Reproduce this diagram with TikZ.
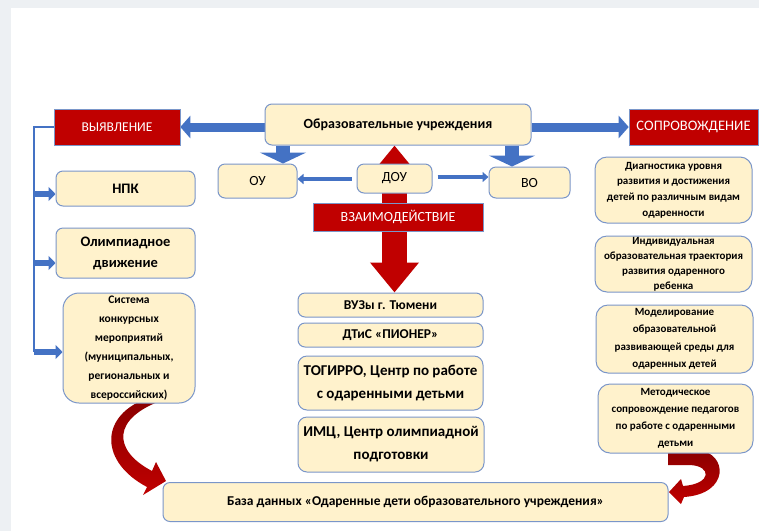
\documentclass[tikz,border=0pt]{standalone}
\usepackage{fontspec}
\setmainfont{Carlito}
\usetikzlibrary{arrows.meta}
\definecolor{cream}{HTML}{FFF2CC}
\definecolor{bord}{HTML}{7A96C9}
\definecolor{dred}{HTML}{C00000}
\definecolor{darkr}{HTML}{8A0000}
\definecolor{ablue}{HTML}{4472C4}
\definecolor{bggrey}{HTML}{EDF0F3}
\pgfdeclarelayer{back}
\pgfdeclarelayer{mid}
\pgfsetlayers{back,mid,main}
\begin{document}
\begin{tikzpicture}[x=1pt,y=-1pt,
  sz/.style 2 args={minimum width=#1pt, minimum height=#2pt},
  bf/.style 2 args={font=\fontsize{#1pt}{#2pt}\selectfont\bfseries},
  rg/.style 2 args={font=\fontsize{#1pt}{#2pt}\selectfont},
  box/.style={draw=bord, line width=1pt, fill=cream, rounded corners=7pt, inner sep=0pt, align=center},
  redbox/.style={draw=bord, line width=0.6pt, fill=dred, inner sep=0pt, text=white, align=center},
  bigblue/.style={draw=ablue, line width=9pt, -{Triangle[width=22pt,length=10pt]}},
  midblue/.style={draw=ablue, line width=5.5pt, -{Triangle[width=14pt,length=7pt]}},
  smallblue/.style={draw=ablue, line width=3.5pt, -{Triangle[width=10pt,length=6pt]}},
  thinblue/.style={draw=ablue, line width=1.6pt},
  blockblue/.style={draw=ablue, line width=14pt, -{Triangle[width=46pt,length=11pt]}},
  redarrow/.style={draw=dred, line width=25pt, {Triangle[width=47pt,length=30pt]}-{Triangle[width=47pt,length=30pt]}}
]
\useasboundingbox (0,0) rectangle (759,531);
\begin{pgfonlayer}{back}
\fill[bggrey] (0,0) rectangle (759,531);
\fill[white] (11,8) rectangle (759,531);
\end{pgfonlayer}

% top row
\node[redbox, sz={126}{36}, rg={13.5}{16}] (vyav) at (117,127) {ВЫЯВЛЕНИЕ};
\node[box, sz={266}{41}, bf={14}{17}] (obr) at (398,124.5) {Образовательные учреждения};
\node[redbox, sz={129}{36}, rg={14.5}{17}] (sopr) at (693.5,127) {СОПРОВОЖДЕНИЕ};

% second row
\node[box, sz={79}{34}, rg={14}{17}] (ou) at (257.5,181) {ОУ};
\node[box, sz={75}{29}, rg={14}{17}] (dou) at (394.5,178.5) {ДОУ};
\node[box, sz={81}{31}, rg={14}{17}] (vo) at (529.5,182.5) {ВО};
\node[redbox, sz={170}{28}, rg={14}{17}] (vzaim) at (398,217) {ВЗАИМОДЕЙСТВИЕ};

% left column
\node[box, sz={139}{35}, bf={14.5}{17}] (npk) at (125.5,188.5) {НПК};
\node[box, sz={139}{50}, bf={14.5}{21}] (olymp) at (125.5,253) {Олимпиадное\\движение};
\node[box, rounded corners=16pt, sz={132}{110}, bf={11.5}{19}] (sist) at (129,348)
  {Система\\конкурсных\\мероприятий\\(муниципальных,\\региональных и\\всероссийских)};

% middle column
\node[box, sz={185}{24}, bf={13.5}{16}] (vuz) at (390.5,305) {ВУЗы г. Тюмени};
\node[box, sz={185}{24}, bf={13.5}{16}] (dtis) at (390.5,335) {ДТиС «ПИОНЕР»};
\node[box, rounded corners=9pt, sz={185}{54}, bf={15}{23}] (tog) at (390.5,383) {ТОГИРРО, Центр по работе\\с одаренными детьми};
\node[box, rounded corners=9pt, sz={186}{55}, bf={15}{23}] (imc) at (391,444.5) {ИМЦ, Центр олимпиадной\\подготовки};

% right column
\node[box, rounded corners=12pt, sz={157}{66}, bf={11}{15.7}] (diag) at (673.5,190) {Диагностика уровня\\развития и достижения\\детей по различным видам\\одаренности};
\node[box, rounded corners=12pt, sz={157}{56}, bf={11}{15}] (indiv) at (673.5,264) {Индивидуальная\\образовательная траектория\\развития одаренного\\ребенка};
\node[box, rounded corners=12pt, sz={157}{68}, bf={11}{17.4}] (model) at (674.5,339) {Моделирование\\образовательной\\развивающей среды для\\одаренных детей};
\node[box, rounded corners=12pt, sz={155}{69}, bf={11}{17}] (metod) at (675.5,418.5) {Методическое\\сопровождение педагогов\\по работе с одаренными\\детьми};

% bottom
\node[box, sz={505}{39}, bf={13.5}{16}] (baza) at (415.5,502) {База данных «Одаренные дети образовательного учреждения»};

% helper coordinates
\coordinate (ltop) at (34,127);
\coordinate (lbot) at (34,352);
\coordinate (a1) at (34,194);
\coordinate (a2) at (34,263);
\coordinate (dl) at (283,0);
\coordinate (dr) at (512,0);

\begin{pgfonlayer}{mid}
% big horizontal arrows
\draw[bigblue] (obr.west |- vyav.east) -- (vyav.east);
\draw[bigblue] (obr.east |- sopr.west) -- (sopr.west);
% block arrows down
\draw[blockblue] (obr.south -| dl) -- (ou.north -| dl);
\draw[blockblue] (obr.south -| dr) -- (vo.north -| dr);
% small arrows from DOU
\draw[smallblue, shorten <=5pt] (dou.west |- 0,179) -- (ou.east |- 0,179);
\draw[smallblue, shorten <=5pt] (dou.east |- 0,177) -- (vo.west |- 0,177);
% red double arrow
\draw[redarrow] (dou |- obr.south) -- (dou |- vuz.north);
% left bracket line
\draw[thinblue] (vyav.west) -- (ltop) -- (lbot);
\draw[midblue] (a1) -- (npk.west |- a1);
\draw[midblue] (a2) -- (olymp.west |- a2);
\draw[midblue] (lbot) -- (sist.west |- lbot);
% curved red arrows
\shade[top color=darkr, bottom color=dred]
  (143,400) .. controls (100,418) and (100,462) .. (147,487)
  -- (143,495) -- (166,481) -- (156,462) -- (152,471)
  .. controls (112,450) and (112,418) .. (163,400) -- cycle;
\shade[top color=darkr, bottom color=dred]
  (668,450) -- (698,450) .. controls (728,453) and (730,494) .. (684,497)
  -- (681,504) -- (669,492) -- (681,479) -- (683,486)
  .. controls (712,484) and (712,466) .. (690,465) -- (668,465) -- cycle;
\end{pgfonlayer}
\end{tikzpicture}
\end{document}
